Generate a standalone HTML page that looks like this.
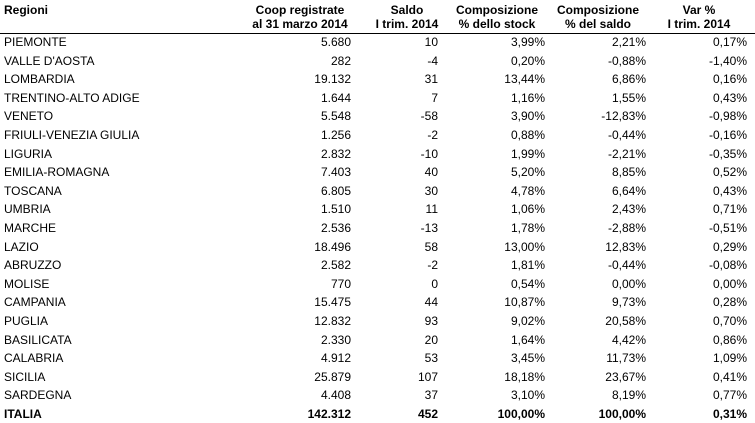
<!DOCTYPE html>
<html><head><meta charset="utf-8"><style>
body{margin:0;width:755px;height:423px;background:#fff;overflow:hidden;font-family:"Liberation Sans",sans-serif;font-size:12px;color:#000;position:relative}
.r{position:absolute;left:0;width:755px;height:18px;line-height:18px}
.r span{position:absolute;white-space:nowrap}
.n{left:4px}
.c1{right:404px}.c2{right:317px}.c3{right:210px}.c4{right:109px}.c5{right:8px}
.h{position:absolute;font-weight:bold;text-align:center;line-height:14px;width:140px;margin-left:-70px}
.b{font-weight:bold}
</style></head><body>
<div class="h" style="left:74px;top:3px;text-align:left;margin-left:-70px">Regioni</div>
<div class="h" style="left:300px;top:3px">Coop registrate<br>al 31 marzo 2014</div>
<div class="h" style="left:407px;top:3px">Saldo<br>I trim. 2014</div>
<div class="h" style="left:497px;top:3px">Composizione<br>% dello stock</div>
<div class="h" style="left:598px;top:3px">Composizione<br>% del saldo</div>
<div class="h" style="left:699px;top:3px">Var %<br>I trim. 2014</div>
<div style="position:absolute;left:0;top:33px;width:755px;height:1px;background:#000"></div>
<div id="rows"></div>
<div class="r" style="top:33px"><span class="n">PIEMONTE</span><span class="c1">5.680</span><span class="c2">10</span><span class="c3">3,99%</span><span class="c4">2,21%</span><span class="c5">0,17%</span></div>
<div class="r" style="top:51.6px"><span class="n">VALLE D'AOSTA</span><span class="c1">282</span><span class="c2">-4</span><span class="c3">0,20%</span><span class="c4">-0,88%</span><span class="c5">-1,40%</span></div>
<div class="r" style="top:70.2px"><span class="n">LOMBARDIA</span><span class="c1">19.132</span><span class="c2">31</span><span class="c3">13,44%</span><span class="c4">6,86%</span><span class="c5">0,16%</span></div>
<div class="r" style="top:88.8px"><span class="n">TRENTINO-ALTO ADIGE</span><span class="c1">1.644</span><span class="c2">7</span><span class="c3">1,16%</span><span class="c4">1,55%</span><span class="c5">0,43%</span></div>
<div class="r" style="top:107.4px"><span class="n">VENETO</span><span class="c1">5.548</span><span class="c2">-58</span><span class="c3">3,90%</span><span class="c4">-12,83%</span><span class="c5">-0,98%</span></div>
<div class="r" style="top:126px"><span class="n">FRIULI-VENEZIA GIULIA</span><span class="c1">1.256</span><span class="c2">-2</span><span class="c3">0,88%</span><span class="c4">-0,44%</span><span class="c5">-0,16%</span></div>
<div class="r" style="top:144.6px"><span class="n">LIGURIA</span><span class="c1">2.832</span><span class="c2">-10</span><span class="c3">1,99%</span><span class="c4">-2,21%</span><span class="c5">-0,35%</span></div>
<div class="r" style="top:163.2px"><span class="n">EMILIA-ROMAGNA</span><span class="c1">7.403</span><span class="c2">40</span><span class="c3">5,20%</span><span class="c4">8,85%</span><span class="c5">0,52%</span></div>
<div class="r" style="top:181.8px"><span class="n">TOSCANA</span><span class="c1">6.805</span><span class="c2">30</span><span class="c3">4,78%</span><span class="c4">6,64%</span><span class="c5">0,43%</span></div>
<div class="r" style="top:200.4px"><span class="n">UMBRIA</span><span class="c1">1.510</span><span class="c2">11</span><span class="c3">1,06%</span><span class="c4">2,43%</span><span class="c5">0,71%</span></div>
<div class="r" style="top:219px"><span class="n">MARCHE</span><span class="c1">2.536</span><span class="c2">-13</span><span class="c3">1,78%</span><span class="c4">-2,88%</span><span class="c5">-0,51%</span></div>
<div class="r" style="top:237.6px"><span class="n">LAZIO</span><span class="c1">18.496</span><span class="c2">58</span><span class="c3">13,00%</span><span class="c4">12,83%</span><span class="c5">0,29%</span></div>
<div class="r" style="top:256.2px"><span class="n">ABRUZZO</span><span class="c1">2.582</span><span class="c2">-2</span><span class="c3">1,81%</span><span class="c4">-0,44%</span><span class="c5">-0,08%</span></div>
<div class="r" style="top:274.8px"><span class="n">MOLISE</span><span class="c1">770</span><span class="c2">0</span><span class="c3">0,54%</span><span class="c4">0,00%</span><span class="c5">0,00%</span></div>
<div class="r" style="top:293.4px"><span class="n">CAMPANIA</span><span class="c1">15.475</span><span class="c2">44</span><span class="c3">10,87%</span><span class="c4">9,73%</span><span class="c5">0,28%</span></div>
<div class="r" style="top:312px"><span class="n">PUGLIA</span><span class="c1">12.832</span><span class="c2">93</span><span class="c3">9,02%</span><span class="c4">20,58%</span><span class="c5">0,70%</span></div>
<div class="r" style="top:330.6px"><span class="n">BASILICATA</span><span class="c1">2.330</span><span class="c2">20</span><span class="c3">1,64%</span><span class="c4">4,42%</span><span class="c5">0,86%</span></div>
<div class="r" style="top:349.2px"><span class="n">CALABRIA</span><span class="c1">4.912</span><span class="c2">53</span><span class="c3">3,45%</span><span class="c4">11,73%</span><span class="c5">1,09%</span></div>
<div class="r" style="top:367.8px"><span class="n">SICILIA</span><span class="c1">25.879</span><span class="c2">107</span><span class="c3">18,18%</span><span class="c4">23,67%</span><span class="c5">0,41%</span></div>
<div class="r" style="top:386.4px"><span class="n">SARDEGNA</span><span class="c1">4.408</span><span class="c2">37</span><span class="c3">3,10%</span><span class="c4">8,19%</span><span class="c5">0,77%</span></div>
<div class="r b" style="top:405px"><span class="n">ITALIA</span><span class="c1">142.312</span><span class="c2">452</span><span class="c3">100,00%</span><span class="c4">100,00%</span><span class="c5">0,31%</span></div>
</body></html>
